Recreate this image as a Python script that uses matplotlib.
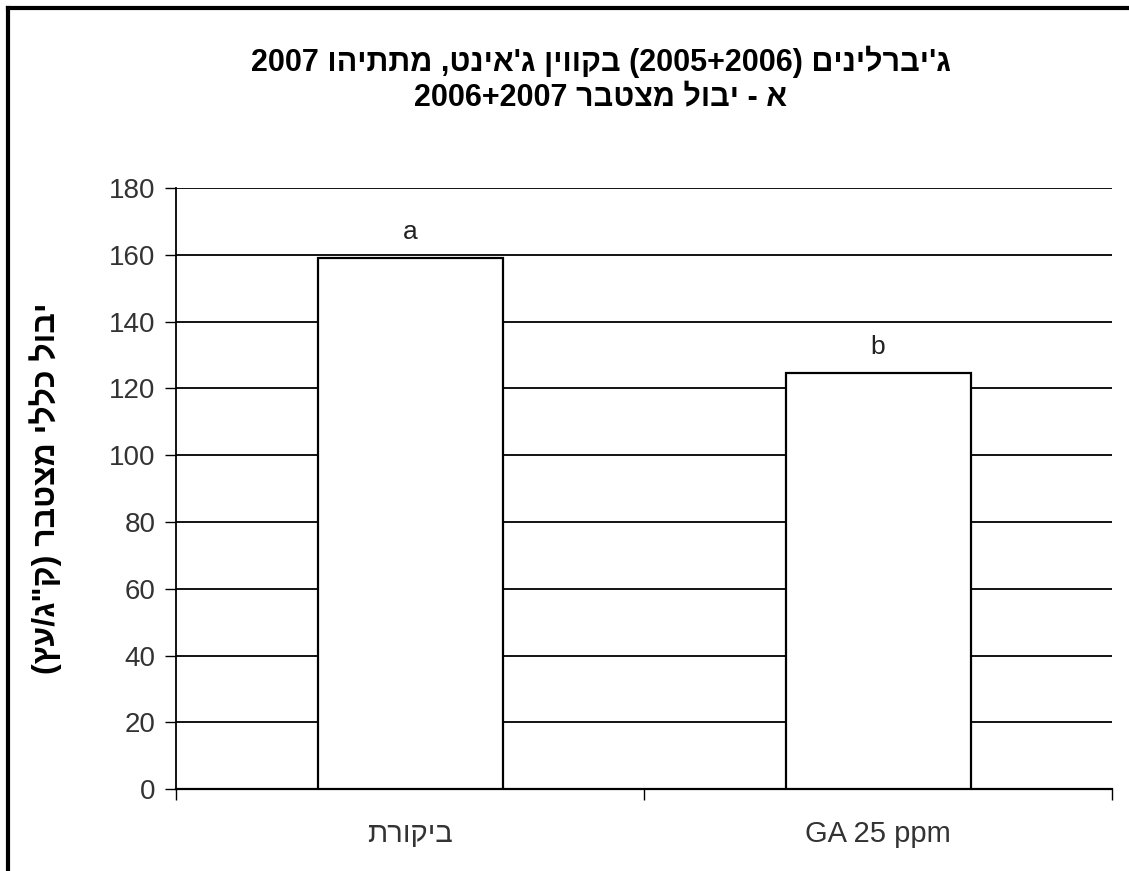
import re
import matplotlib
matplotlib.use("Agg")
import matplotlib.pyplot as plt
from matplotlib.lines import Line2D

plt.rcParams['font.family'] = ['Liberation Sans', 'DejaVu Sans']

# data
categories = ["ביקורת", "GA 25 ppm"]
yield_values = [159, 124.6]
letters = ["a", "b"]
y_ticks = [0, 20, 40, 60, 80, 100, 120, 140, 160, 180]

title_1 = "ג'יברלינים (2005+2006) בקווין ג'אינט, מתתיהו 2007"
title_2 = "א - יבול מצטבר 2006+2007"
y_label = 'יבול כללי מצטבר (ק"ג/עץ)'


def visual(s):
    # matplotlib has no bidi, so put hebrew text in visual order by hand
    if not re.search(r"[\u0590-\u05FF]", s):
        return s
    runs = re.findall(r"[0-9A-Za-z]+(?:[+.][0-9A-Za-z]+)*|[^0-9A-Za-z]", s)
    mirror = {"(": ")", ")": "("}
    return "".join(mirror.get(r, r) for r in reversed(runs))


fig = plt.figure(figsize=(11.29, 8.71), dpi=100)
ax = fig.add_axes([0.156, 0.094, 0.829, 0.690])

x = range(len(categories))
ax.bar(x, yield_values, width=0.395, color="white", edgecolor="black", linewidth=1.6, zorder=3)
for i, (v, l) in enumerate(zip(yield_values, letters)):
    ax.annotate(l, (i, v), xytext=(0, 10), textcoords="offset points",
                ha="center", va="bottom", fontsize=19, color="#222222")

ax.set_xlim(-0.5, len(categories) - 0.5)
ax.set_ylim(0, 180)
ax.set_yticks(y_ticks)
ax.set_yticklabels([str(t) for t in y_ticks], fontsize=20, color="#333333")
ax.yaxis.grid(True, color="black", linewidth=1.3)
ax.set_axisbelow(True)

# category labels between boundary ticks, like excel
ax.set_xticks([-0.5, 0.5, 1.5])
ax.set_xticklabels([])
ax.set_xticks(list(x), minor=True)
ax.set_xticklabels([visual(c) for c in categories], minor=True, fontsize=21, color="#333333")
ax.tick_params(axis="x", which="minor", length=0, pad=22)
ax.tick_params(axis="x", which="major", length=8, width=1, direction="out")
ax.tick_params(axis="y", length=8, width=1, direction="out", pad=7)

for s in ["top", "right"]:
    ax.spines[s].set_visible(False)
ax.spines["left"].set_linewidth(1.3)
ax.spines["bottom"].set_linewidth(1.6)

ax.set_ylabel(visual(y_label), fontsize=23, fontweight="bold", labelpad=34)

fig.text(0.532, 0.929, visual(title_1), ha="center", va="center", fontsize=22, fontweight="bold")
fig.text(0.532, 0.887, visual(title_2), ha="center", va="center", fontsize=22, fontweight="bold")

# outer frame (top and left only show in the crop)
fig.add_artist(Line2D([0.0075, 1.0], [0.991, 0.991], color="black", linewidth=3, transform=fig.transFigure))
fig.add_artist(Line2D([0.0075, 0.0075], [0.0, 0.991], color="black", linewidth=3, transform=fig.transFigure))

fig.savefig("out.png", dpi=100)
